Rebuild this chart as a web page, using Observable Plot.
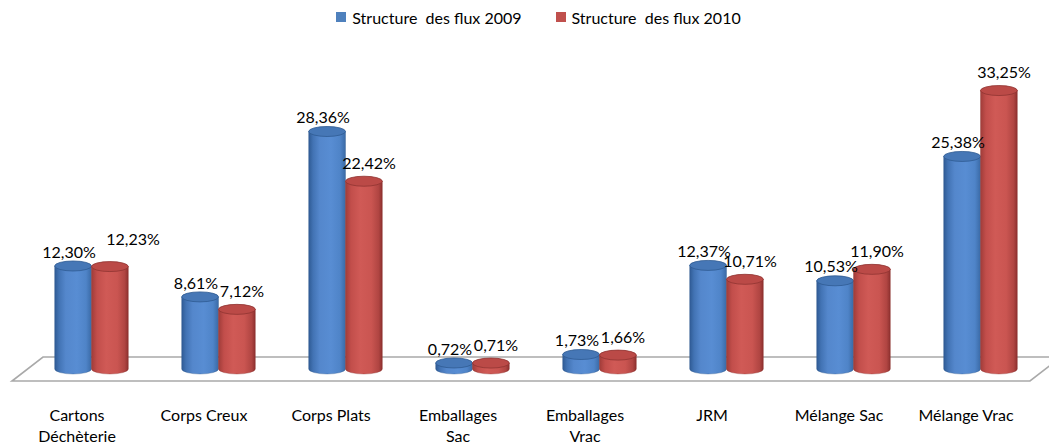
<!DOCTYPE html>
<html>
<head>
<meta charset="utf-8">
<script src="https://cdn.jsdelivr.net/npm/d3@7"></script>
<script src="https://cdn.jsdelivr.net/npm/@observablehq/plot@0.6"></script>
<style>
  html, body { margin: 0; padding: 0; background: #fff; }
  #legend { height: 34px; display: flex; justify-content: center; align-items: center; gap: 34px;
            padding-left: 28px; font-family: Lato, sans-serif; font-size: 16px; color: #000; white-space: pre; }
  .item { display: flex; align-items: center; gap: 6px; }
  .sw { width: 10px; height: 10px; display: inline-block; }
</style>
</head>
<body>
<div id="legend"></div>
<div id="chart"></div>
<script>
const categories = ["Cartons Déchèterie", "Corps Creux", "Corps Plats", "Emballages Sac", "Emballages Vrac", "JRM", "Mélange Sac", "Mélange Vrac"];
const tickLabels = ["Cartons\nDéchèterie", "Corps Creux", "Corps Plats", "Emballages\nSac", "Emballages\nVrac", "JRM", "Mélange Sac", "Mélange Vrac"];
const seriesNames = ["Structure  des flux 2009", "Structure  des flux 2010"];
const values2009 = [12.30, 8.61, 28.36, 0.72, 1.73, 12.37, 10.53, 25.38];
const values2010 = [12.23, 7.12, 22.42, 0.71, 1.66, 10.71, 11.90, 33.25];
const seriesColors = ["#4F81BD", "#C0504D"];

const data = [];
categories.forEach((c, i) => {
  data.push({cat: c, series: 0, value: values2009[i]});
  data.push({cat: c, series: 1, value: values2010[i]});
});
const d2009 = data.filter(d => d.series === 0);
const d2010 = data.filter(d => d.series === 1);

// legend
const legend = d3.select("#legend");
seriesNames.forEach((s, i) => {
  const it = legend.append("div").attr("class", "item");
  it.append("span").attr("class", "sw").style("background", seriesColors[i]);
  it.append("span").text(s);
});

const fmt = v => v.toFixed(2).replace(".", ",") + "%";

// simple label collision check: labels that would collide get the 2010 label lifted
const PX_PER_UNIT = 410 - 75; // plot height in px for the y domain below
const Y_MAX = 40;
const LABEL_DX = 23, DY_2009 = -14, DY_2010 = -18, CHAR_W = 8.8;
function collides(i) {
  const t1 = fmt(values2009[i]), t2 = fmt(values2010[i]);
  const hOverlap = (t1.length + t2.length) * CHAR_W / 2 > 2 * LABEL_DX - 1;
  const y1 = -values2009[i] * PX_PER_UNIT / Y_MAX + DY_2009;
  const y2 = -values2010[i] * PX_PER_UNIT / Y_MAX + DY_2010;
  return hOverlap && Math.abs(y1 - y2) < 8;
}
const d2010Normal = d2010.filter((d, i) => !collides(i));
const d2010Lifted = d2010.filter((d, i) => collides(i));

const grads = [
  {id: "gBlue", stops: [[0, "#2f5b94"], [0.12, "#4273b4"], [0.3, "#5487cc"], [0.6, "#588dd3"], [0.85, "#4f84c8"], [1, "#3a6aa6"]],
   top: "#4677b6", topStroke: "#2f5b92", edge: "#2e578c"},
  {id: "gRed", stops: [[0, "#a03c39"], [0.15, "#c24e4b"], [0.4, "#d05a56"], [0.7, "#ca5551"], [0.9, "#b04542"], [1, "#8c302e"]],
   top: "#bb4a47", topStroke: "#8f3331", edge: "#8d302e"}
];

function cylinders(index, scales, values, dimensions) {
  const g = d3.create("svg:g");
  const defs = g.append("defs");
  grads.forEach(gr => {
    const lg = defs.append("linearGradient").attr("id", gr.id).attr("x1", 0).attr("x2", 1).attr("y1", 0).attr("y2", 0);
    gr.stops.forEach(([o, c]) => lg.append("stop").attr("offset", o).attr("stop-color", c));
  });
  const {marginLeft, marginRight, width} = dimensions;
  const y0 = scales.y(0);
  const xl = marginLeft, xr = width - marginRight;
  const backY = y0 - 12, frontY = y0 + 12;
  g.append("path")
    .attr("d", `M${xl + 17},${backY}L${xr + 16},${backY}L${xr - 15},${frontY}L${xl - 14},${frontY}Z`)
    .attr("fill", "#fff").attr("stroke", "#a9a9a9").attr("stroke-width", 1.6);
  const bw = scales.x.bandwidth();
  const rx = bw * 0.145, ry = 5;
  for (const i of index) {
    const d = data[i];
    const gr = grads[d.series];
    const cx = scales.x(d.cat) + bw / 2 + (d.series === 0 ? -rx : rx);
    const yTop = scales.y(d.value), yBot = y0;
    const a = cx - rx, b = cx + rx;
    g.append("path")
      .attr("d", `M${a},${yTop}L${a},${yBot}A${rx},${ry} 0 0 0 ${b},${yBot}L${b},${yTop}Z`)
      .attr("fill", `url(#${gr.id})`)
      .attr("stroke", gr.edge).attr("stroke-width", 0.6).attr("stroke-opacity", 0.6);
    g.append("ellipse")
      .attr("cx", cx).attr("cy", yTop).attr("rx", rx).attr("ry", ry)
      .attr("fill", gr.top).attr("stroke", gr.topStroke).attr("stroke-width", 0.8);
  }
  return g.node();
}

const chart = Plot.plot({
  width: 1049,
  height: 410,
  marginLeft: 26,
  marginRight: 4,
  marginTop: 0,
  marginBottom: 75,
  style: {fontFamily: "Lato, sans-serif", fontSize: "16px", color: "#000", background: "#fff"},
  x: {domain: categories, padding: 0, label: null},
  y: {domain: [0, Y_MAX], axis: null},
  marks: [
    Plot.barY(data, {x: "cat", y1: 0, y2: "value", render: cylinders}),
    Plot.text(d2009, {x: "cat", y: "value", text: d => fmt(d.value), dx: -LABEL_DX, dy: DY_2009, fontSize: 16, fill: "#000"}),
    Plot.text(d2010Normal, {x: "cat", y: "value", text: d => fmt(d.value), dx: LABEL_DX, dy: DY_2010, fontSize: 16, fill: "#000"}),
    Plot.text(d2010Lifted, {x: "cat", y: "value", text: d => fmt(d.value), dx: LABEL_DX + 18, dy: DY_2010 - 9, fontSize: 16, fill: "#000"}),
    Plot.axisX({tickSize: 0, tickPadding: 37, fontSize: 16, lineHeight: 1.3, dx: -15,
                tickFormat: d => tickLabels[categories.indexOf(d)], label: null})
  ]
});
document.getElementById("chart").appendChild(chart);
</script>
</body>
</html>
